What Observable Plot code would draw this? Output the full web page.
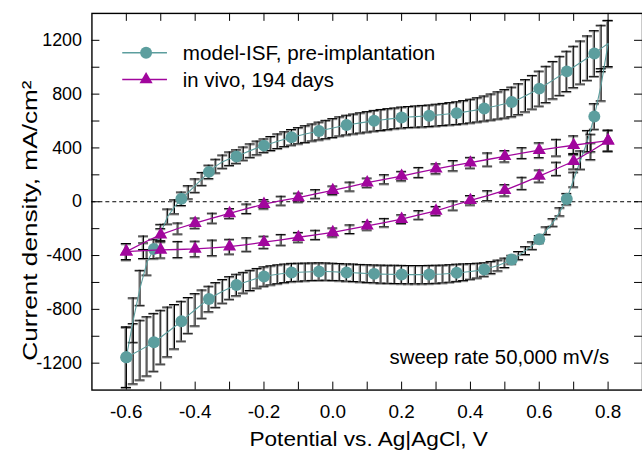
<!DOCTYPE html>
<html><head><meta charset="utf-8">
<script src="https://cdn.jsdelivr.net/npm/d3@7"></script>
<script src="https://cdn.jsdelivr.net/npm/@observablehq/plot@0.6"></script>
<style>
html,body{margin:0;padding:0;overflow:hidden;background:#fff;}
#chart{position:relative;width:642px;height:453px;overflow:hidden;}
</style></head><body><div id="chart"></div>
<script>
// Potential grid (V vs Ag|AgCl) for the model-ISF curve: forward sweep
const isfPotential = [-0.60,-0.58,-0.56,-0.54,-0.52,-0.50,-0.48,-0.46,-0.44,-0.42,-0.40,-0.38,-0.36,-0.34,-0.32,-0.30,-0.28,-0.26,-0.24,-0.22,-0.20,-0.18,-0.16,-0.14,-0.12,-0.10,-0.08,-0.06,-0.04,-0.02,0.00,0.02,0.04,0.06,0.08,0.10,0.12,0.14,0.16,0.18,0.20,0.22,0.24,0.26,0.28,0.30,0.32,0.34,0.36,0.38,0.40,0.42,0.44,0.46,0.48,0.50,0.52,0.54,0.56,0.58,0.60,0.62,0.64,0.66,0.68,0.70,0.72,0.74,0.76,0.78,0.80];
// model-ISF, forward (anodic) sweep, mA/cm2, -0.6 -> 0.8 V
const isfForward = [-1156,-880,-640,-450,-351,-230,-110,-38,22,70, 120,170,222,265,298,320,336,358,380,400, 417,433,450,465,479,491,503,515,526,537, 548,560,570,578,586,594,602,608,614,620, 626,630,633,636,639,644,649,654,659,666, 674,683,693,704,716,728,742,762,788,814, 841,872,904,936,969,1002,1035,1068,1102,1140, 1176];
const isfForwardErr = [224,165,130,95,72,62,56,52,50,49, 50,48,50,51,49,50,50,49,50,51, 50,52,54,55,58,60,62,63,66,68, 70,71,73,74,75,76,77,78,78,77, 78,78,79,80,80,81,82,83,84,86, 88,90,93,97,101,106,110,115,120,125, 130,135,139,145,150,154,160,165,170,172, 172];
// model-ISF, reverse (cathodic) sweep, 0.8 -> -0.6 V
const isfReverse = [1176,870,634,450,310,165,20,-75,-154,-215, -279,-326,-363,-400,-430,-454,-474,-489,-504,-512, -518,-524,-528,-533,-537,-539,-541,-542,-542,-542, -541,-540,-539,-538,-536,-534,-531,-528,-526,-523, -521,-519,-519,-520,-522,-524,-526,-532,-539,-547, -556,-569,-585,-602,-619,-641,-666,-693,-723,-761, -803,-845,-888,-929,-968,-1007,-1045,-1075,-1103,-1130, -1156];
const isfReverseErr = [172,120,95,80,68,55,42,30,28,28, 28,28,29,30,32,35,40,45,50,55, 58,62,64,65,66,67,68,68,68,68, 68,68,67,67,66,66,65,65,64,64, 64,64,65,65,66,67,68,69,70,71, 72,73,75,77,80,84,88,92,95,105, 120,133,148,165,185,200,215,220,222,224, 225];

// in vivo, 194 days
const vivoPotential = [-0.60,-0.55,-0.50,-0.45,-0.40,-0.35,-0.30,-0.25,-0.20,-0.15,-0.10,-0.05,0.00,0.05,0.10,0.15,0.20,0.25,0.30,0.35,0.40,0.45,0.50,0.55,0.60,0.65,0.70,0.75,0.80];
const vivoForward = [-371,-305,-245,-199,-159,-122,-87,-52,-18,8,31,58,85,113,142,167,191,218,245,268,290,314,338,362,383,402,420,437,454];
const vivoForwardErr = [60,50,45,41,38,37,36,35,34,33,33,32,32,33,34,34,35,37,37,38,40,49,42,40,55,62,70,65,78];
const vivoReverse = [454,375,301,245,191,137,85,45,11,-28,-68,-98,-129,-155,-179,-204,-228,-246,-264,-283,-301,-318,-334,-343,-351,-355,-358,-364,-371];
const vivoReverseErr = [78,62,58,49,45,45,42,37,35,34,33,32,32,31,31,32,33,34,36,40,45,50,55,58,58,60,60,58,60];

const xTickLabels = [-0.6,-0.4,-0.2,0.0,0.2,0.4,0.6,0.8];
const xTickMarks = [-0.6,-0.5,-0.4,-0.3,-0.2,-0.1,0.0,0.1,0.2,0.3,0.4,0.5,0.6,0.7,0.8];
const yTickLabels = [-1200,-800,-400,0,400,800,1200];
const yTickMarks = [-1200,-1000,-800,-600,-400,-200,0,200,400,600,800,1000,1200];

const seriesNames = ["model-ISF, pre-implantation", "in vivo, 194 days"];
const teal = "#5c9e9e", purple = "#a1069d";

const revIsf = isfPotential.slice().reverse();
const revVivo = vivoPotential.slice().reverse();
const isf = isfPotential.map((v, k) => ({v, i: isfForward[k], e: isfForwardErr[k], k}))
  .concat(revIsf.map((v, k) => ({v, i: isfReverse[k], e: isfReverseErr[k], k: 70 - k})));
const vivo = vivoPotential.map((v, k) => ({v, i: vivoForward[k], e: vivoForwardErr[k], k}))
  .concat(revVivo.map((v, k) => ({v, i: vivoReverse[k], e: vivoReverseErr[k], k: 28 - k})));

const isfMarkers = isf.filter(d => d.k % 4 === 0 && d.k < 70);
const vivoMarkers = vivo.filter(d => d.k % 2 === 0);

const W = 646, H = 453, mL = 92, mR = 0, mT = 13, mB = 61;
const innerW = W - mL - mR, innerH = H - mT - mB;

function errorBars(data) {
  const lo = d => d.i - d.e, hi = d => d.i + d.e;
  return [
    Plot.ruleX(data, {x: "v", y1: lo, y2: hi, stroke: "#8c8c8c", strokeWidth: 1.3, dx: -1.1}),
    Plot.ruleY(data, {x1: "v", x2: "v", y: hi, insetLeft: -5, insetRight: -5, stroke: "#8c8c8c", strokeWidth: 1.2, dy: 1}),
    Plot.ruleY(data, {x1: "v", x2: "v", y: lo, insetLeft: -5, insetRight: -5, stroke: "#8c8c8c", strokeWidth: 1.2, dy: 1}),
    Plot.ruleX(data, {x: "v", y1: lo, y2: hi, stroke: "#000", strokeWidth: 1}),
    Plot.ruleY(data, {x1: "v", x2: "v", y: hi, insetLeft: -5, insetRight: -5, stroke: "#000", strokeWidth: 1}),
    Plot.ruleY(data, {x1: "v", x2: "v", y: lo, insetLeft: -5, insetRight: -5, stroke: "#000", strokeWidth: 1})
  ];
}

const chart = Plot.plot({
  width: W, height: H,
  marginLeft: mL, marginRight: mR, marginTop: mT, marginBottom: mB,
  x: {domain: [-0.7, 0.9]},
  y: {domain: [-1400, 1400]},
  style: {fontFamily: "'Liberation Sans', Arial, sans-serif", background: "#fff", color: "#000", overflow: "visible"},
  marks: [
    Plot.ruleY([0], {stroke: "#000", strokeWidth: 1, strokeDasharray: "4,3"}),
    ...errorBars(isf),
    Plot.line(isf, {x: "v", y: "i", stroke: teal, strokeWidth: 1.1}),
    Plot.dot(isfMarkers, {x: "v", y: "i", r: 6, fill: teal, stroke: "none"}),
    ...errorBars(vivo),
    Plot.line(vivo, {x: "v", y: "i", stroke: purple, strokeWidth: 1.3}),
    Plot.dot(vivoMarkers, {x: "v", y: "i", symbol: "triangle", r: 4.9, fill: purple, stroke: "none"}),
    Plot.ruleX(xTickMarks, {insetTop: innerH - 8, stroke: "#000"}),
    Plot.ruleX(xTickMarks, {insetBottom: innerH - 8, stroke: "#000"}),
    Plot.ruleY(yTickMarks, {insetRight: innerW - 8, stroke: "#000"}),
    Plot.ruleY(yTickMarks, {insetLeft: innerW - 8, stroke: "#000"}),
    Plot.frame({stroke: "#000", strokeWidth: 1.4}),
    Plot.axisX(xTickLabels, {tickSize: 0, tickPadding: 15, tickFormat: d => d.toFixed(1), fontSize: 19, label: null}),
    Plot.axisY(yTickLabels, {tickSize: 0, tickPadding: 10, tickFormat: d => String(d), fontSize: 18, label: null})
  ]
});

const svg = d3.select(chart);
const g = svg.append("g").attr("font-family", "'Liberation Sans', Arial, sans-serif").attr("fill", "#000");
function label(x, y, txt, size, len, anchor, rot) {
  const t = g.append("text").attr("font-size", size).attr("text-anchor", anchor)
    .attr("textLength", len).attr("lengthAdjust", "spacingAndGlyphs").text(txt);
  if (rot) t.attr("transform", `translate(${x},${y}) rotate(${rot})`);
  else t.attr("x", x).attr("y", y);
  return t;
}
label(371, 449, "Potential vs. Ag|AgCl, V", 20, 240, "middle");
label(37, 222, "Current density, mA/cm²", 21, 282, "middle", -90);
label(392, 366, "sweep rate 50,000 mV/s", 20, 221, "start");
// legend
const leg = g.append("g");
leg.append("line").attr("x1", 123).attr("x2", 168).attr("y1", 53).attr("y2", 53).attr("stroke", teal).attr("stroke-width", 1.6);
leg.append("circle").attr("cx", 147).attr("cy", 53).attr("r", 6).attr("fill", teal);
leg.append("line").attr("x1", 123).attr("x2", 168).attr("y1", 80).attr("y2", 80).attr("stroke", purple).attr("stroke-width", 1.6);
leg.append("path").attr("d", d3.symbol(d3.symbolTriangle, Math.PI * 4.9 * 4.9)()).attr("transform", "translate(147,80)").attr("fill", purple);
label(184, 60.5, seriesNames[0], 20, 254, "start");
label(184, 87.5, seriesNames[1], 20, 152, "start");

document.getElementById("chart").appendChild(chart);
</script></body></html>
